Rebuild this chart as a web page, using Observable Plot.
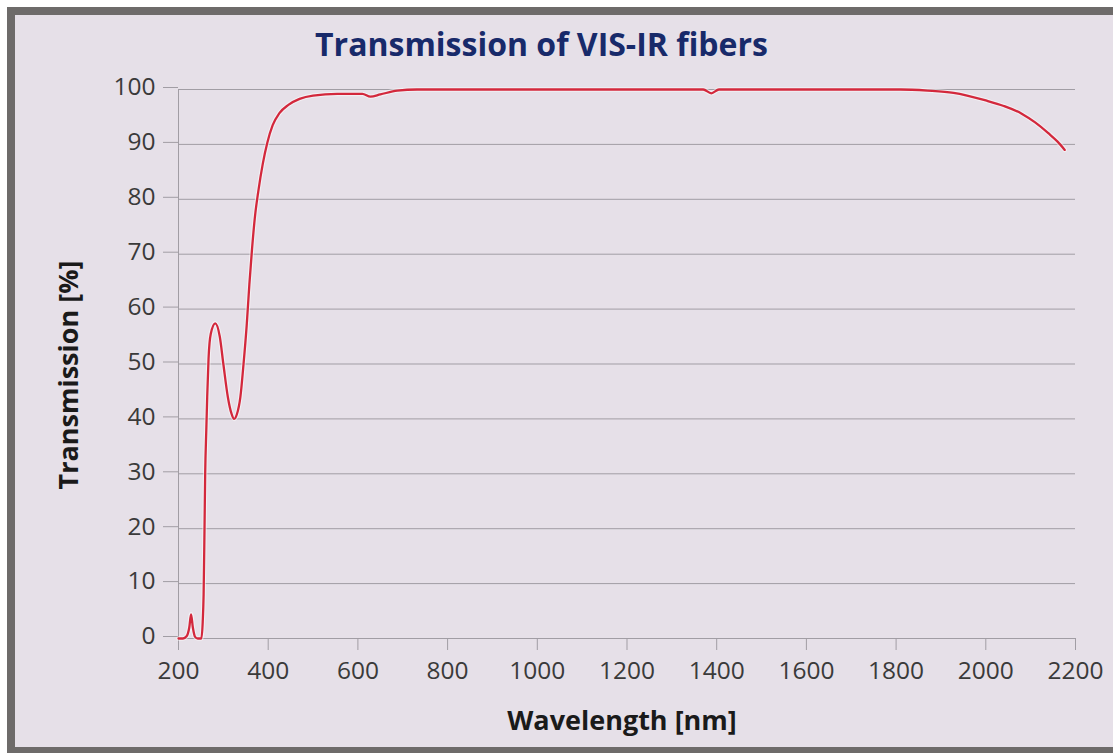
<!DOCTYPE html>
<html>
<head>
<meta charset="utf-8">
<script src="https://cdn.jsdelivr.net/npm/d3@7"></script>
<script src="https://cdn.jsdelivr.net/npm/@observablehq/plot@0.6"></script>
<style>
  body { margin: 0; background: #ffffff; width: 1113px; height: 753px; overflow: hidden; position: relative; font-family: "Open Sans", sans-serif; }
  #frame { position: absolute; left: 7px; top: 7px; right: 0; bottom: 0; border-top: 8px solid #6e6b6a; border-left: 8px solid #6e6b6a; border-bottom: 6px solid #6e6b6a; background: #e6e0e8; }
  #title { position: absolute; left: 0; width: 1083px; top: 22px; text-align: center; font-weight: 700; font-size: 32px; line-height: 44px; color: #182a6a; }
  #xlabel { position: absolute; left: 0; width: 1244px; top: 702px; text-align: center; font-weight: 700; font-size: 27px; line-height: 36px; color: #1a1a1a; }
  #ylabel { position: absolute; left: 68px; top: 375px; transform: translate(-50%, -50%) rotate(-90deg); white-space: nowrap; font-weight: 700; font-size: 27px; line-height: 36px; color: #1a1a1a; }
  #chart { position: absolute; left: 0; top: 0; }
</style>
</head>
<body>
<div id="frame"></div>
<div id="chart"></div>
<div id="title">Transmission of VIS-IR fibers</div>
<div id="xlabel">Wavelength [nm]</div>
<div id="ylabel">Transmission [%]</div>
<script>
const wavelength = [200, 210, 218, 224, 228, 232, 237, 243, 251, 254, 256, 258, 259.5, 262, 264, 267, 272, 282, 292, 300, 310, 318, 324, 330, 338, 345, 352, 358, 364, 370, 378, 388, 398, 410, 425, 445, 470, 500, 554, 610, 628, 650, 688, 732, 800, 1000, 1200, 1370, 1388, 1405, 1600, 1810, 1870, 1928, 2000, 2040, 2080, 2110, 2140, 2160, 2176];
const transmission = [0, 0, 0.4, 2, 4.4, 2, 0.3, 0, 0, 3, 8, 20, 30, 38, 44, 51, 55.5, 57.4, 55, 50, 44, 41, 40, 40.8, 44, 50, 57, 64.5, 71, 76.5, 81.5, 86.5, 90.3, 93.5, 95.7, 97.2, 98.3, 98.9, 99.2, 99.2, 98.7, 99.1, 99.8, 100, 100, 100, 100, 100, 99.3, 100, 100, 100, 99.8, 99.4, 98.0, 97.0, 95.6, 94.0, 92.0, 90.5, 89.0];
const xTicks = [200, 400, 600, 800, 1000, 1200, 1400, 1600, 1800, 2000, 2200];
const yTicks = [0, 10, 20, 30, 40, 50, 60, 70, 80, 90, 100];

const data = wavelength.map((w, i) => ({w, t: transmission[i]}));
const gridColor = "#a19da4";

const chart = Plot.plot({
  width: 1113,
  height: 753,
  marginLeft: 178,
  marginRight: 38,
  marginTop: 89,
  marginBottom: 115,
  style: { background: "transparent", fontFamily: "'Open Sans', sans-serif", color: "#3a3a3a" },
  x: { domain: [200, 2200] },
  y: { domain: [0, 100] },
  marks: [
    Plot.gridY(yTicks, { stroke: gridColor, strokeOpacity: 1 }),
    Plot.axisY(yTicks, { tickSize: 15, tickPadding: 8, fontSize: 24.5, stroke: gridColor, strokeOpacity: 1, label: null, fill: "#3a3a3a", dy: -2 }),
    Plot.axisX(xTicks, { tickSize: 12, tickPadding: 11, fontSize: 24.5, stroke: gridColor, strokeOpacity: 1, label: null, tickFormat: d => String(d), fill: "#3a3a3a" }),
    Plot.ruleX([200], { stroke: gridColor }),
    Plot.line(data, { x: "w", y: "t", stroke: "#ffffff", strokeWidth: 4.5, strokeOpacity: 0.5, curve: "monotone-x" }),
    Plot.line(data, { x: "w", y: "t", stroke: "#d3283c", strokeWidth: 2.3, curve: "monotone-x" })
  ]
});
document.getElementById("chart").appendChild(chart);
</script>
</body>
</html>
